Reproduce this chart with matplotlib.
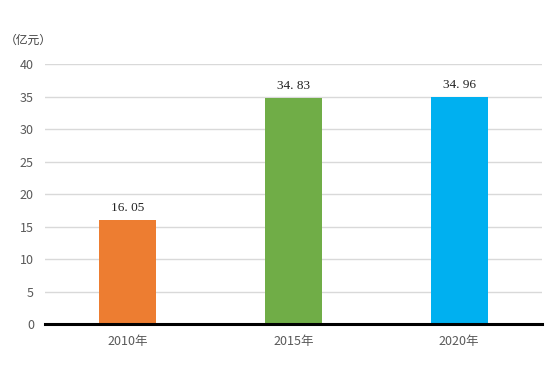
import matplotlib
matplotlib.use('Agg')
from matplotlib import pyplot as plt

# 数据
years = ['2010年', '2015年', '2020年']
values = [16.05, 34.83, 34.96]
colors = ['#ED7D31', '#70AD47', '#00B0F0']

plt.rcParams['font.family'] = ['Noto Sans CJK SC', 'DejaVu Sans']

fig = plt.figure(figsize=(5.59, 3.67), dpi=100)
ax = fig.add_axes([0.0805, 0.117, 0.889, 0.708])

x = range(len(years))
bars = ax.bar(x, values, width=0.345, color=colors, zorder=3)

# 数值标签
for xi, v in zip(x, values):
    ax.annotate(f'{v:.2f}'.replace('.', '. '), (xi, v), xytext=(0, 4),
                textcoords='offset points', ha='center', va='bottom',
                fontsize=9.5, family=['Liberation Serif'], color='#222222')

ax.set_xlim(-0.5, 2.5)
ax.set_ylim(0, 40)
ax.set_yticks(range(0, 41, 5))
ax.set_xticks(list(x))
ax.set_xticklabels(years)
ax.grid(axis='y', color='#D9D9D9', linewidth=1, zorder=0)

for s in ['top', 'right', 'left']:
    ax.spines[s].set_visible(False)
ax.spines['bottom'].set_color('black')
ax.spines['bottom'].set_linewidth(2.2)
ax.spines['bottom'].set_zorder(4)

ax.tick_params(axis='both', length=0, labelsize=9, colors='#595959')
ax.tick_params(axis='y', pad=8)
ax.tick_params(axis='x', pad=8)

fig.text(0.008, 0.89, '（亿元）', fontsize=8.5, color='#404040', va='center')

fig.savefig('out.png', dpi=100)
